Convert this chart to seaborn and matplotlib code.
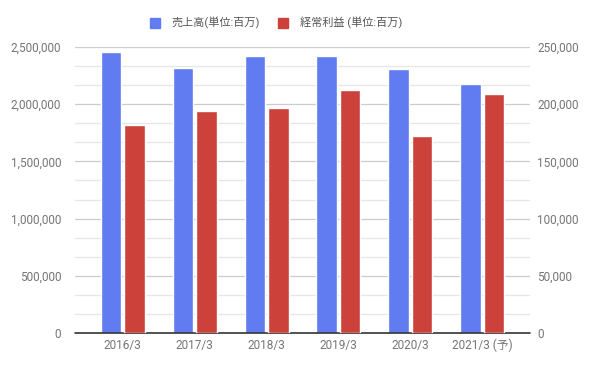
import pandas as pd
import numpy as np
import matplotlib
matplotlib.use("Agg")
import matplotlib.pyplot as plt
import seaborn as sns
from matplotlib.ticker import FuncFormatter, MultipleLocator
from matplotlib.lines import Line2D

# Data
years = ["2016/3", "2017/3", "2018/3", "2019/3", "2020/3", "2021/3 (予)"]
sales = [2455000, 2315000, 2420000, 2420000, 2306000, 2175000]
profit = [181800, 194000, 196600, 212300, 172200, 208800]
sales_label = "売上高(単位:百万)"
profit_label = "経常利益 (単位:百万)"

blue = "#617BF0"
red = "#CC4139"
grey = "#757575"

sns.set_theme(style="white")
plt.rcParams["font.family"] = ["Roboto", "Noto Sans CJK JP", "DejaVu Sans"]

# long table; each axis gets its own series, the other left empty so dodge slots stay
df = pd.DataFrame({
    "year": years * 2,
    "series": [sales_label] * len(years) + [profit_label] * len(years),
    "sales": sales + [np.nan] * len(years),
    "profit": [np.nan] * len(years) + profit,
})

fig = plt.figure(figsize=(5.97, 3.69), dpi=100)
ax = fig.add_axes([75 / 597, (369 - 333.3) / 369, 455 / 597, 286.6 / 369])
ax2 = ax.twinx()

palette = {sales_label: blue, profit_label: red}
sns.barplot(data=df, x="year", y="sales", hue="series", palette=palette,
            width=0.64, gap=0.09, ax=ax, legend=False, saturation=1)
sns.barplot(data=df, x="year", y="profit", hue="series", palette=palette,
            width=0.64, gap=0.09, ax=ax2, legend=False, saturation=1)

ax.set_xlim(-0.66, 5.66)
ax.set_ylim(0, 2500000)
ax2.set_ylim(0, 250000)
ax.yaxis.set_major_locator(MultipleLocator(500000))
ax2.yaxis.set_major_locator(MultipleLocator(50000))
fmt = FuncFormatter(lambda v, p: f"{int(v):,}")
ax.yaxis.set_major_formatter(fmt)
ax2.yaxis.set_major_formatter(fmt)

# grid lines: major plus two minor between each pair
for v in np.arange(0, 2500001, 500000 / 3):
    major = abs(v / 500000 - round(v / 500000)) < 1e-6
    if v == 0:
        continue
    ax.axhline(v, color="#CCCCCC" if major else "#E6E6E6", lw=0.9, zorder=0)
ax.set_axisbelow(True)
ax.axhline(0, color="#333333", lw=1.2, zorder=5, clip_on=False)

for a in (ax, ax2):
    for s in a.spines.values():
        s.set_visible(False)
    a.set_xlabel("")
    a.set_ylabel("")
    a.tick_params(length=0, labelsize=8.5, labelcolor=grey)
ax.tick_params(axis="y", pad=10)
ax2.tick_params(axis="y", pad=5)
ax.tick_params(axis="x", pad=4)

handles = [Line2D([], [], marker="s", ls="", color=blue, markersize=7),
           Line2D([], [], marker="s", ls="", color=red, markersize=7)]
fig.legend(handles, [sales_label, profit_label], loc="center left",
           bbox_to_anchor=(144 / 597, 1 - 23 / 369), ncol=2, frameon=False,
           fontsize=8, labelcolor="#555555", handletextpad=0.5, columnspacing=1.1,
           borderaxespad=0, borderpad=0)

fig.savefig("out.png", dpi=100)
